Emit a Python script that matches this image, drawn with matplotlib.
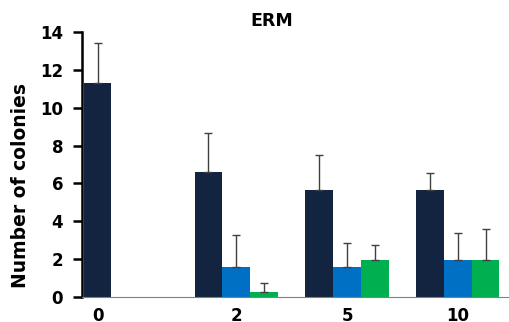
import matplotlib
matplotlib.use("Agg")
import matplotlib.pyplot as plt
import numpy as np

plt.rcParams['font.family'] = ['DejaVu Sans']

groups = ['0', '2', '5', '10']
dark_vals = [11.3, 6.6, 5.65, 5.65]
dark_err = [2.1, 2.05, 1.85, 0.9]
blue_vals = [0, 1.6, 1.6, 1.95]
blue_err = [0, 1.7, 1.25, 1.45]
green_vals = [0, 0.28, 1.95, 1.95]
green_err = [0, 0.48, 0.82, 1.65]

c_dark = '#12243f'
c_blue = '#0070c4'
c_green = '#00b050'
c_err = '#404040'

fig = plt.figure(figsize=(5.10, 3.22), dpi=100)
ax = fig.add_axes([82 / 510, 1 - 297 / 322, 1 - 82 / 510, (297 - 32) / 322])

x = np.arange(len(groups))
w = 0.25
ekw = dict(ecolor=c_err, elinewidth=1.0, capsize=3, capthick=1.0)

ax.bar(x - w, dark_vals, w, color=c_dark)
ax.errorbar(x - w, dark_vals, yerr=[np.zeros(4), dark_err], fmt='none', **ekw)
bx = x[1:]
ax.bar(bx, blue_vals[1:], w, color=c_blue)
ax.errorbar(bx, blue_vals[1:], yerr=[np.zeros(3), blue_err[1:]], fmt='none', **ekw)
ax.bar(bx + w, green_vals[1:], w, color=c_green)
ax.errorbar(bx + w, green_vals[1:], yerr=[np.zeros(3), green_err[1:]], fmt='none', **ekw)

ax.set_xlim(-0.39, 3.47)
ax.set_ylim(0, 14)
ax.set_yticks(range(0, 15, 2))
ax.set_xticks([-w, 1, 2, 3])
ax.set_xticklabels(groups)

for s in ['top', 'right']:
    ax.spines[s].set_visible(False)
ax.spines['left'].set_linewidth(1.8)
ax.spines['bottom'].set_color('#808080')
ax.spines['bottom'].set_linewidth(0.8)

ax.tick_params(axis='y', direction='out', length=6.5, width=1.8, pad=7, labelsize=12)
ax.tick_params(axis='x', length=0, pad=7.5, labelsize=12)
for lab in ax.get_xticklabels() + ax.get_yticklabels():
    lab.set_fontweight('bold')

fig.text(21 / 510, 1 - 186 / 322, 'Number of colonies', rotation=90,
         ha='center', va='center', fontsize=13.5, fontweight='bold')
fig.text(272 / 510, 1 - 21 / 322, 'ERM', ha='center', va='center',
         fontsize=12.5, fontweight='bold')

fig.savefig('out.png', dpi=100)
